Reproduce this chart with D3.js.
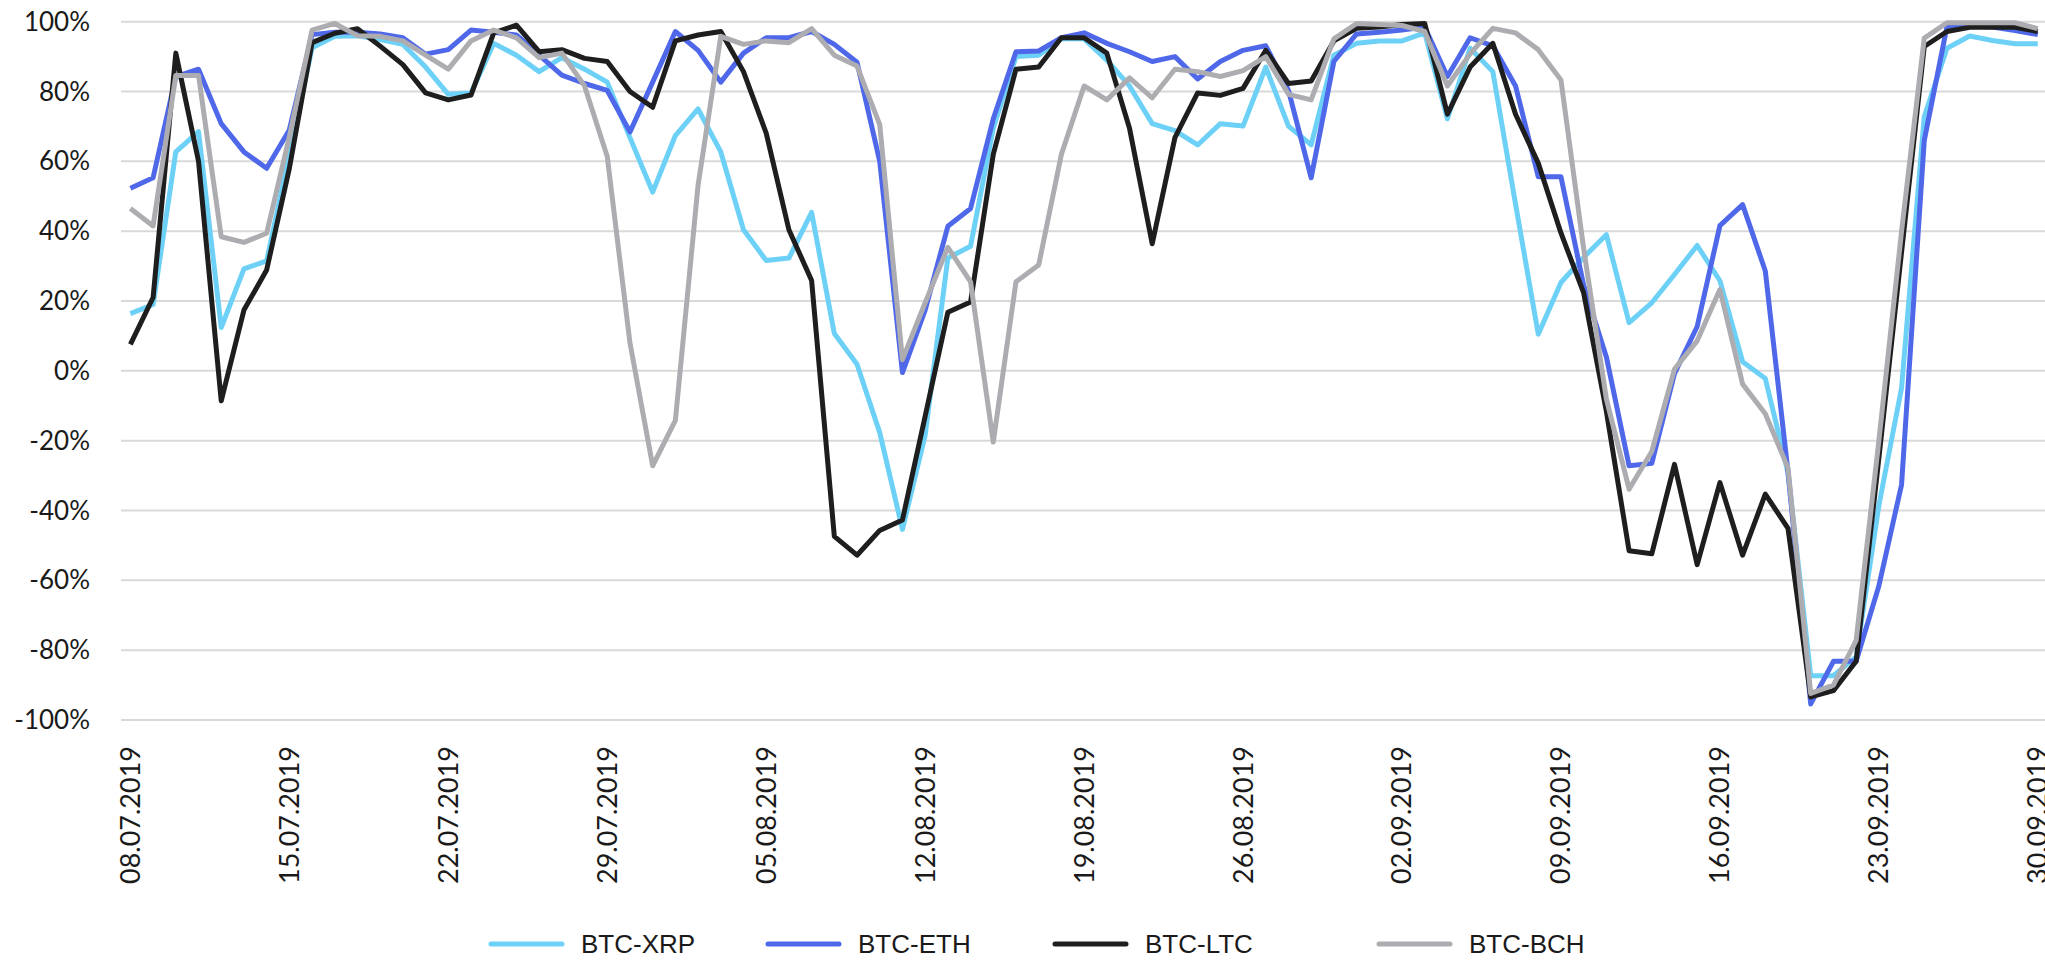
<!DOCTYPE html>
<html>
<head>
<meta charset="utf-8">
<script src="https://d3js.org/d3.v7.min.js"></script>
<style>
  body { margin: 0; background: #fff; }
  svg { display: block; }
  .tick-lbl { font-family: Lato, "Open Sans", sans-serif; font-weight: 400; fill: #1a1a1a; }
  .legend text { font-family: "Liberation Sans", Arial, sans-serif; fill: #1a1a1a; }
</style>
</head>
<body>
<svg id="chart" width="2045" height="961"></svg>
<script>
// daily dates 08.07.2019 - 30.09.2019
var dates = [
  "08.07.2019","09.07.2019","10.07.2019","11.07.2019","12.07.2019","13.07.2019","14.07.2019",
  "15.07.2019","16.07.2019","17.07.2019","18.07.2019","19.07.2019","20.07.2019","21.07.2019",
  "22.07.2019","23.07.2019","24.07.2019","25.07.2019","26.07.2019","27.07.2019","28.07.2019",
  "29.07.2019","30.07.2019","31.07.2019","01.08.2019","02.08.2019","03.08.2019","04.08.2019",
  "05.08.2019","06.08.2019","07.08.2019","08.08.2019","09.08.2019","10.08.2019","11.08.2019",
  "12.08.2019","13.08.2019","14.08.2019","15.08.2019","16.08.2019","17.08.2019","18.08.2019",
  "19.08.2019","20.08.2019","21.08.2019","22.08.2019","23.08.2019","24.08.2019","25.08.2019",
  "26.08.2019","27.08.2019","28.08.2019","29.08.2019","30.08.2019","31.08.2019","01.09.2019",
  "02.09.2019","03.09.2019","04.09.2019","05.09.2019","06.09.2019","07.09.2019","08.09.2019",
  "09.09.2019","10.09.2019","11.09.2019","12.09.2019","13.09.2019","14.09.2019","15.09.2019",
  "16.09.2019","17.09.2019","18.09.2019","19.09.2019","20.09.2019","21.09.2019","22.09.2019",
  "23.09.2019","24.09.2019","25.09.2019","26.09.2019","27.09.2019","28.09.2019","29.09.2019",
  "30.09.2019"
];

// correlation values in %
var btcXrp = [
  16.4, 19, 62.7, 68.5, 12.4, 29.2, 31.5, 62, 92.5, 95.8, 96, 94.9, 93.5, 87,
  79.2, 79.6, 93.8, 90.4, 85.7, 89.7, 86.4, 82.7, 66.8, 51.2, 67.4, 75, 62.7, 40.4,
  31.6, 32.3, 45.4, 10.7, 1.9, -17.7, -45.4, -18.4, 32.3, 35.7, 69.5, 90, 90.4, 95.1,
  95.1, 89, 81.6, 70.8, 68.8, 64.7, 70.8, 70.1, 87, 70.1, 64.7, 90.4, 93.8, 94.5,
  94.5, 96.8, 72.2, 92.4, 85.7, 47.8, 10.5, 25.3, 32.5, 39, 13.8, 19.5, 27.6, 35.9,
  25.8, 2.6, -2.2, -29.2, -87.3, -87.3, -81.9, -38.6, -4.9, 72.8, 92.4, 95.9, 94.6, 93.7,
  93.7
];
var btcEth = [
  52.3, 55.3, 84.3, 86.4, 70.8, 62.7, 58, 69, 96.3, 97, 97, 96.5, 95.4, 90.7,
  92, 97.6, 97, 96.2, 90.4, 84.7, 82.3, 80.3, 68.4, 82.7, 97.2, 91.8, 82.7, 91,
  95.4, 95.4, 97.2, 93.5, 88.4, 60, -0.5, 17.4, 41.4, 46.5, 72.2, 91.4, 91.6, 95.4,
  96.8, 93.8, 91.4, 88.6, 90, 83.6, 88.6, 91.8, 93.1, 80.3, 55.3, 88.6, 96.5, 97,
  97.6, 98.5, 84.3, 95.4, 93.1, 81.6, 55.6, 55.6, 24.5, 4, -27.2, -26.5, -0.8, 12.7,
  41.6, 47.6, 28.6, -29, -95.4, -83.2, -83.2, -61.6, -32.6, 66, 98.6, 98.8, 98.5, 97.5,
  96.3
];
var btcLtc = [
  7.6, 21, 91, 60, -8.6, 17.4, 28.9, 58, 94, 96.7, 98, 93, 87.7, 79.6,
  77.6, 79, 96.8, 99, 91.4, 92, 89.5, 88.6, 80, 75.5, 94.5, 96.2, 97.2, 85.7,
  68.1, 40.4, 25.9, -47.4, -52.8, -45.7, -42.7, -13, 16.8, 19.7, 62, 86.4, 87, 95.4,
  95.4, 91, 69.5, 36.4, 66.8, 79.6, 78.9, 80.9, 91.8, 82.3, 83, 94.5, 98.1, 98.5,
  99.2, 99.5, 73.5, 87, 93.8, 73.5, 59.5, 39.5, 22.3, -11.6, -51.5, -52.4, -26.8, -55.5,
  -32, -52.8, -35.3, -45.1, -93.4, -91.6, -83.2, -25, 34, 92.9, 97.2, 98.4, 98.4, 98.4,
  97.2
];
var btcBch = [
  46.5, 41.5, 84.6, 84.6, 38.4, 36.8, 39.4, 67, 97.6, 99.5, 96, 95.8, 94.5, 90.4,
  86.4, 94.5, 97.6, 95.4, 89.7, 91, 81.6, 61.4, 8, -27.2, -14.2, 53.2, 95.8, 93.5,
  94.5, 94, 98, 90.4, 87.3, 70.5, 3.2, 19.5, 35.4, 25.5, -20.4, 25.5, 30.3, 62,
  81.6, 77.6, 83.9, 78.2, 86.4, 85.7, 84.3, 86, 90, 79.2, 77.6, 95.1, 99.5, 99.2,
  98.9, 97.2, 81.6, 90.8, 98.1, 96.8, 92, 83.3, 35, -8, -33.9, -23.1, 0.5, 8.6,
  23.3, -3.8, -12.3, -27.8, -92.4, -90, -77.2, -20, 40, 95.3, 99.7, 99.7, 99.7, 99.7,
  98
];

var seriesNames = ["BTC-XRP", "BTC-ETH", "BTC-LTC", "BTC-BCH"];
var seriesColors = ["#6dd1f7", "#4f68ea", "#1e1e1e", "#adadb1"];
var yTicks = [-100, -80, -60, -40, -20, 0, 20, 40, 60, 80, 100];
var xTickLabels = dates.filter(function(d, i) { return i % 7 === 0; });

var svg = d3.select("#chart");

var x = d3.scalePoint()
    .domain(dates)
    .range([130.4, 2037.8]);

var y = d3.scaleLinear()
    .domain([-100, 100])
    .range([720, 21.7]);

// grid lines
svg.append("g")
  .selectAll("line")
  .data(yTicks)
  .enter()
  .append("line")
    .attr("x1", 121)
    .attr("x2", 2045)
    .attr("y1", function(d) { return y(d); })
    .attr("y2", function(d) { return y(d); })
    .style("stroke", "#d9d9d9")
    .style("stroke-width", 2);

// y axis labels
svg.append("g")
  .selectAll("text")
  .data(yTicks)
  .enter()
  .append("text")
    .attr("class", "tick-lbl")
    .attr("x", 90)
    .attr("y", function(d) { return y(d); })
    .attr("dy", "0.35em")
    .attr("text-anchor", "end")
    .style("font-size", "26px")
    .text(function(d) { return d + "%"; });

// x axis labels, rotated
svg.append("g")
  .selectAll("text")
  .data(xTickLabels)
  .enter()
  .append("text")
    .attr("class", "tick-lbl")
    .attr("transform", function(d) { return "translate(" + x(d) + ",746) rotate(-90)"; })
    .attr("dy", "0.35em")
    .attr("text-anchor", "end")
    .style("font-size", "27px")
    .text(function(d) { return d; });

var seriesData = [btcXrp, btcEth, btcLtc, btcBch];

var line = d3.line()
    .x(function(d, i) { return x(dates[i]); })
    .y(function(d) { return y(d); });

svg.append("g")
  .selectAll("path")
  .data(seriesData)
  .enter()
  .append("path")
    .attr("d", function(d) { return line(d); })
    .style("fill", "none")
    .style("stroke", function(d, i) { return seriesColors[i]; })
    .style("stroke-width", 5)
    .style("stroke-linejoin", "round");

// legend
var legendX = [491, 768, 1055, 1379];
var legend = svg.append("g").attr("class", "legend");
var items = legend.selectAll("g")
  .data(seriesNames)
  .enter()
  .append("g")
    .attr("transform", function(d, i) { return "translate(" + legendX[i] + ",944)"; });

items.append("line")
    .attr("x1", 0)
    .attr("x2", 71)
    .style("stroke", function(d, i) { return seriesColors[i]; })
    .style("stroke-width", 5)
    .style("stroke-linecap", "round");

items.append("text")
    .attr("x", 90)
    .attr("dy", "0.35em")
    .style("font-size", "26px")
    .text(function(d) { return d; });
</script>
</body>
</html>
